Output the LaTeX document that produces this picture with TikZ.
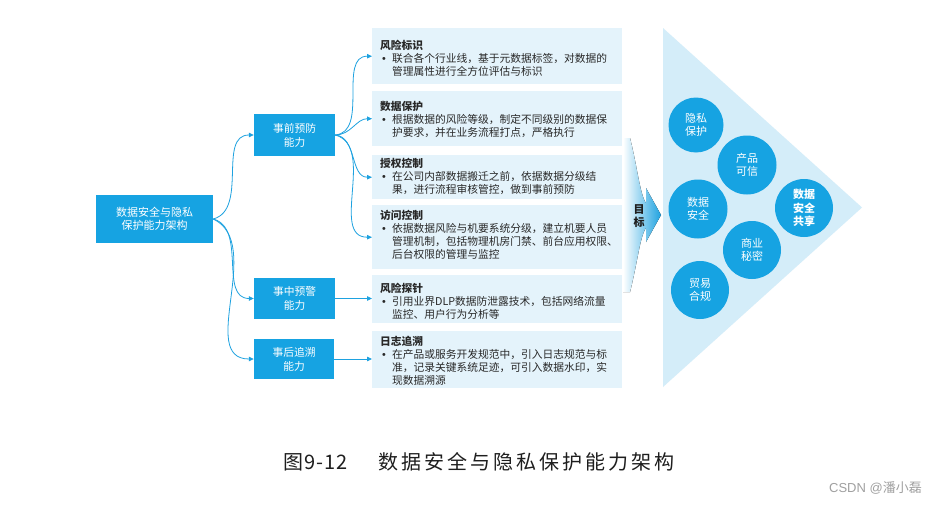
\documentclass[tikz,border=0pt]{standalone}
\usepackage{fontspec}
\setmainfont{Noto Sans CJK SC}
\newfontfamily\wmfont{Liberation Sans}
\usetikzlibrary{arrows.meta}
\definecolor{dblue}{RGB}{22,163,226}
\definecolor{lblue}{RGB}{228,243,251}
\definecolor{tblue}{RGB}{212,237,249}
\definecolor{ablue}{RGB}{30,162,224}
\definecolor{txt}{RGB}{40,40,40}
\definecolor{capc}{RGB}{30,30,30}
\definecolor{wmc}{RGB}{160,160,160}
\newcommand\bul{\makebox[12pt][l]{\hspace{2pt}{\wmfont •}}}
\newcommand\ind{\hspace*{12pt}}
\begin{document}
\begin{tikzpicture}[x=1pt,y=-1pt,
  dbox/.style={fill=dblue, text=white, inner sep=0pt, align=center, font=\fontsize{10.75}{14}\selectfont},
  lbox/.style={fill=lblue, inner sep=0pt, minimum width=250pt, anchor=north west},
  btext/.style={anchor=north west, inner sep=0pt, align=left, text=txt, font=\fontsize{10.75}{13}\selectfont},
  conn/.style={draw=ablue, line width=0.8pt, -{Triangle[length=5pt,width=4.5pt]}},
  goal/.style={circle, fill=dblue, text=white, inner sep=0pt, align=center, font=\fontsize{11}{13.5}\selectfont},
  goalb/.style={goal, font=\fontsize{11}{13.5}\selectfont\bfseries}
]
\useasboundingbox (0,0) rectangle (938,506);
\fill[white] (0,0) rectangle (938,506);

% left tree
\node[dbox, minimum width=117pt, minimum height=48pt, font=\fontsize{11}{13}\selectfont] (root) at (154.5,219) {数据安全与隐私\\保护能力架构};
\node[dbox, minimum width=81pt, minimum height=42pt] (pre) at (294.5,135) {事前预防\\能力};
\node[dbox, minimum width=81pt, minimum height=41pt] (mid) at (294.5,298.5) {事中预警\\能力};
\node[dbox, minimum width=80pt, minimum height=40pt] (post) at (294,359) {事后追溯\\能力};

% text boxes
\node[lbox, minimum height=56pt] (b1) at (372,28) {};
\node[lbox, minimum height=55pt] (b2) at (372,91) {};
\node[lbox, minimum height=44pt] (b3) at (372,155) {};
\node[lbox, minimum height=64pt] (b4) at (372,205) {};
\node[lbox, minimum height=48pt] (b5) at (372,275) {};
\node[lbox, minimum height=57pt] (b6) at (372,331) {};

\node[btext] (t1) at (380,39.5) {{\bfseries 风险标识}\\\bul 联合各个行业线，基于元数据标签，对数据的\\\ind 管理属性进行全方位评估与标识};
\node[btext] (t2) at (380,101.5) {{\bfseries 数据保护}\\\bul 根据数据的风险等级，制定不同级别的数据保\\\ind 护要求，并在业务流程打点，严格执行};
\node[btext] (t3) at (380,158.5) {{\bfseries 授权控制}\\\bul 在公司内部数据搬迁之前，依据数据分级结\\\ind 果，进行流程审核管控，做到事前预防};
\node[btext] (t4) at (380,209.5) {{\bfseries 访问控制}\\\bul 依据数据风险与机要系统分级，建立机要人员\\\ind 管理机制，包括物理机房门禁、前台应用权限、\\\ind 后台权限的管理与监控};
\node[btext] (t5) at (380,282.5) {{\bfseries 风险探针}\\\bul 引用业界DLP数据防泄露技术，包括网络流量\\\ind 监控、用户行为分析等};
\node[btext] (t6) at (380,336.5) {{\bfseries 日志追溯}\\\bul 在产品或服务开发规范中，引入日志规范与标\\\ind 准，记录关键系统足迹，可引入数据水印，实\\\ind 现数据溯源};

% connectors
\draw[conn] (root.east) to[out=15,in=180] (pre.west);
\draw[conn] (root.east) to[out=-15,in=180] (mid.west);
\draw[conn] (root.east) to[out=-25,in=180] (post.west);
\draw[conn] (pre.east) to[out=5,in=180] (b1.west);
\draw[conn] (pre.east) to[out=0,in=180] (b2.west);
\draw[conn] (pre.east) to[out=-5,in=180] (b3.west);
\draw[conn] (pre.east) to[out=-15,in=180] (b4.west);
\draw[conn] (mid.east) -- (mid.east -| b5.west);
\draw[conn] (post.east) -- (post.east -| b6.west);

% goal triangle
\fill[tblue] (663,28) -- (862,207.5) -- (663,387) -- cycle;

% goal arrow
\fill[left color=white, right color=ablue] (623,138) -- (630,138) .. controls (637,165) and (640,195) .. (646,203) -- (646,188) -- (661,215) -- (646,242) -- (646,228) .. controls (640,236) and (637,265) .. (630,292) -- (623,292) -- cycle;
\node[inner sep=0pt, align=center, text=capc, font=\fontsize{11}{13}\selectfont\bfseries] (goaltxt) at (639,216.5) {目\\标};

% circles
\node[goal, minimum size=55pt] (c1) at (696,125) {隐私\\保护};
\node[goal, minimum size=59pt] (c2) at (747,165) {产品\\可信};
\node[goal, minimum size=59pt] (c3) at (698,209) {数据\\安全};
\node[goalb, minimum size=58pt] (c4) at (804,208) {数据\\安全\\共享};
\node[goal, minimum size=58pt] (c5) at (752,250) {商业\\秘密};
\node[goal, minimum size=58pt] (c6) at (700,290) {贸易\\合规};

% caption
\node[anchor=west, inner sep=0pt, text=capc, font=\fontsize{20}{22}\selectfont\addfontfeature{LetterSpace=5}] (cap1) at (283,462) {图9-12};
\node[anchor=west, inner sep=0pt, text=capc, font=\fontsize{20}{22}\selectfont\addfontfeature{LetterSpace=15}] (cap2) at (378,462) {数据安全与隐私保护能力架构};

% watermark
\node[anchor=east, inner sep=0pt, text=wmc, font=\fontsize{13}{15}\selectfont] (wm) at (922,488) {{\wmfont CSDN @}潘小磊};
\end{tikzpicture}
\end{document}
